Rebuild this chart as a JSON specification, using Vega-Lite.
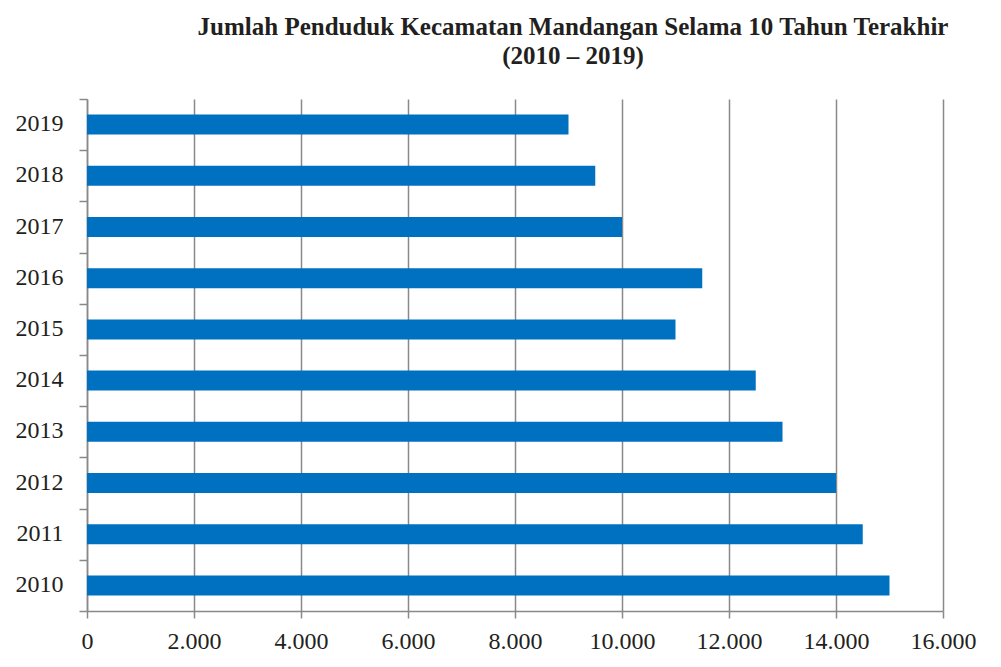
{
  "$schema": "https://vega.github.io/schema/vega-lite/v6.json",
  "autosize": "none",
  "width": 856,
  "height": 512,
  "padding": {"left": 87, "top": 99, "right": 58, "bottom": 56},
  "background": "white",
  "title": {
    "text": ["Jumlah Penduduk Kecamatan Mandangan Selama 10 Tahun Terakhir", "(2010 – 2019)"],
    "font": "Liberation Serif",
    "fontSize": 25,
    "fontWeight": "bold",
    "color": "#231f20",
    "anchor": "middle",
    "dx": 58,
    "offset": 18,
    "lineHeight": 29
  },
  "data": {
    "values": [
      {"tahun": "2010", "jumlah": 15000},
      {"tahun": "2011", "jumlah": 14500},
      {"tahun": "2012", "jumlah": 14000},
      {"tahun": "2013", "jumlah": 13000},
      {"tahun": "2014", "jumlah": 12500},
      {"tahun": "2015", "jumlah": 11000},
      {"tahun": "2016", "jumlah": 11500},
      {"tahun": "2017", "jumlah": 10000},
      {"tahun": "2018", "jumlah": 9500},
      {"tahun": "2019", "jumlah": 9000}
    ]
  },
  "mark": {"type": "bar", "color": "#0070C0", "height": {"band": 0.39}},
  "encoding": {
    "y": {
      "field": "tahun",
      "type": "nominal",
      "sort": "descending",
      "scale": {"paddingInner": 0, "paddingOuter": 0},
      "axis": {
        "title": null,
        "domainColor": "#898989",
        "domainWidth": 1.5,
        "tickColor": "#898989",
        "tickWidth": 1.5,
        "tickSize": 8,
        "tickBand": "extent",
        "labelFont": "Liberation Serif",
        "labelFontSize": 24,
        "labelColor": "#231f20",
        "labelPadding": 16,
        "labelOffset": -1,
        "grid": false
      }
    },
    "x": {
      "field": "jumlah",
      "type": "quantitative",
      "scale": {"domain": [0, 16000], "nice": false},
      "axis": {
        "title": null,
        "values": [0, 2000, 4000, 6000, 8000, 10000, 12000, 14000, 16000],
        "labelExpr": "replace(format(datum.value, ','), ',', '.')",
        "domainColor": "#898989",
        "domainWidth": 1.5,
        "tickColor": "#898989",
        "tickWidth": 1.5,
        "tickSize": 7,
        "grid": true,
        "gridColor": "#898989",
        "gridWidth": 1.5,
        "labelFont": "Liberation Serif",
        "labelFontSize": 24,
        "labelColor": "#231f20",
        "labelPadding": 11,
        "labelFlush": false
      }
    }
  },
  "config": {"view": {"stroke": null}}
}
